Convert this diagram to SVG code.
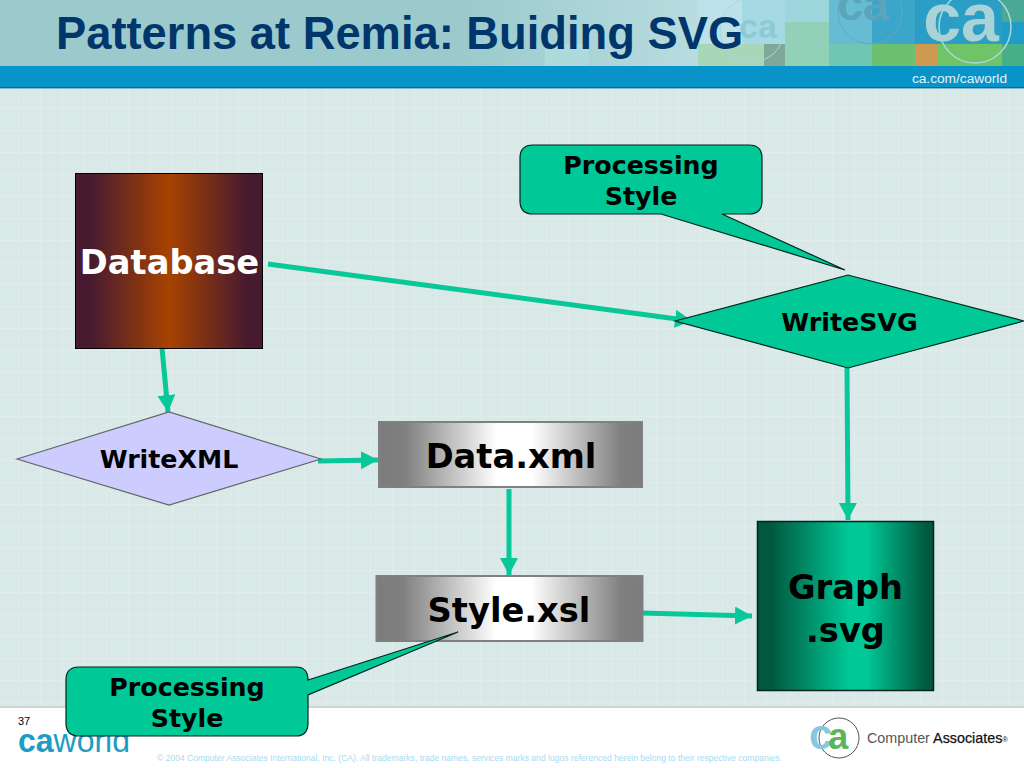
<svg xmlns="http://www.w3.org/2000/svg" width="1024" height="768" viewBox="0 0 1024 768">
<style>
.v{font-family:"DejaVu Sans",Verdana,sans-serif;font-weight:700;fill:#000;text-anchor:middle}
.s{font-family:"Liberation Sans",Arial,sans-serif}
.c{fill:none;stroke:#08c89a;stroke-width:5}
.sh{stroke:#00261e;stroke-width:1.2;fill:#00c896}
.big{font-size:33.700px}
.mid{font-size:25.300px}
</style>
<defs>
<marker id="a" markerUnits="userSpaceOnUse" markerWidth="20" markerHeight="20" refX="17" refY="9" orient="auto"><path d="M0 0L17 9L0 18Z" fill="#08c89a"/></marker>
<linearGradient id="db"><stop offset="0" stop-color="#471a30"/><stop offset=".08" stop-color="#471a30"/><stop offset=".5" stop-color="#a84300"/><stop offset=".92" stop-color="#471a30"/><stop offset="1" stop-color="#471a30"/></linearGradient>
<linearGradient id="gr"><stop offset="0" stop-color="#7c7c7c"/><stop offset=".1" stop-color="#808080"/><stop offset=".45" stop-color="#fff"/><stop offset=".58" stop-color="#fff"/><stop offset=".92" stop-color="#808080"/><stop offset="1" stop-color="#7c7c7c"/></linearGradient>
<linearGradient id="gn"><stop offset="0" stop-color="#00593f"/><stop offset=".08" stop-color="#00593f"/><stop offset=".52" stop-color="#00c896"/><stop offset=".62" stop-color="#00c896"/><stop offset=".96" stop-color="#00593f"/><stop offset="1" stop-color="#00593f"/></linearGradient>
<linearGradient id="hd"><stop offset="0" stop-color="#9ccacc"/><stop offset=".45" stop-color="#9ccacc"/><stop offset=".68" stop-color="#b8dcdf"/><stop offset="1" stop-color="#8ccbd0"/></linearGradient>
<pattern id="grid" patternUnits="userSpaceOnUse" x="18" y="108" width="22" height="22"><rect width="22" height="22" fill="#d9e9e8"/><path d="M0.500 0V22M0 0.500H22" stroke="#e1eded" stroke-width="1"/></pattern>
</defs>
<rect width="1024" height="768" fill="#fff"/>
<g id="header">
<rect width="1024" height="66" fill="url(#hd)"/>
<g>
<rect x="545" y="44" width="44" height="22" fill="#aedadb"/>
<rect x="698" y="0" width="44" height="44" fill="#bde1e8"/>
<rect x="698" y="44" width="66" height="22" fill="#a8d6b8"/>
<rect x="742" y="0" width="43" height="44" fill="#a5dae4"/>
<rect x="764" y="44" width="21" height="22" fill="#7fa89a"/>
<rect x="785" y="0" width="44" height="22" fill="#9dd6dc"/>
<rect x="785" y="22" width="44" height="44" fill="#92d0b8"/>
<rect x="829" y="0" width="43" height="44" fill="#66bcd2"/>
<rect x="829" y="44" width="43" height="22" fill="#70c6b4"/>
<rect x="872" y="0" width="43" height="44" fill="#3ca6ca"/>
<rect x="872" y="44" width="43" height="22" fill="#6cc070"/>
<rect x="915" y="0" width="87" height="44" fill="#2b9ec5"/>
<rect x="915" y="44" width="22" height="22" fill="#cf9a50"/>
<rect x="937" y="44" width="65" height="22" fill="#70c468"/>
<rect x="1002" y="0" width="22" height="22" fill="#4aa896"/>
<rect x="1002" y="22" width="22" height="22" fill="#1f9cc8"/>
<rect x="1002" y="44" width="22" height="22" fill="#48b088"/>
</g>
<rect y="66" width="1024" height="21" fill="#0894c8"/>
<rect y="87" width="1024" height="1.500" fill="#0a6a90"/>
<text class="s" x="1007" y="83" font-size="13.700" fill="#e4f3f8" text-anchor="end">ca.com/caworld</text>
</g>
<g id="watermark" font-family="Liberation Sans,sans-serif" font-weight="700" text-anchor="middle">
<circle cx="752" cy="30" r="32" fill="none" stroke="#a6d8e0" stroke-width="1"/>
<circle cx="870" cy="12" r="32" fill="none" stroke="#5fa9c0" stroke-width="1"/>
<circle cx="975" cy="27" r="36" fill="none" stroke="#a9d9d6" stroke-width="1.500"/>
<text x="758" y="38" font-size="34" fill="#8ccad6">ca</text>
<text x="863" y="20" font-size="46" fill="#5ca4b8">ca</text>
<text x="961" y="41" font-size="68" fill="#a9d3d6">ca</text>
</g>
<g id="background">
<rect y="89" width="1024" height="618" fill="url(#grid)"/>
<rect y="706" width="1024" height="2" fill="#c9d8d4"/>
</g>
<g id="footer">
<text class="s" x="18" y="725" font-size="11" fill="#000">37</text>
<text class="s" x="18" y="752" font-size="34" fill="#1d9cc4" textLength="112" lengthAdjust="spacingAndGlyphs"><tspan font-weight="700">ca</tspan>world</text>
<text class="s" x="157" y="761" font-size="8.500" fill="#a9daf0" textLength="625" lengthAdjust="spacing">© 2004 Computer Associates International, Inc. (CA). All trademarks, trade names, services marks and logos referenced herein belong to their respective companies.</text>
<g id="ca-logo">
<circle cx="839" cy="738" r="20" fill="#fff" stroke="#555" stroke-width="1"/>
<text class="s" x="809" y="749" font-size="42" font-weight="700"><tspan fill="#85c8df">c</tspan><tspan fill="#5db55a" dx="-4" font-size="36">a</tspan></text>
</g>
<text class="s" x="867" y="743" font-size="15" fill="#555" textLength="141" lengthAdjust="spacingAndGlyphs">Computer <tspan fill="#111" stroke="#111" stroke-width=".25">Associates</tspan><tspan font-size="8" fill="#111" dy="-1">®</tspan></text>
</g>
<text id="title" class="s" x="56" y="49" font-size="45.300" font-weight="700" fill="#00366c">Patterns at Remia: Buiding SVG</text>
<g id="connectors">
<path class="c" d="M268 264L692 321" marker-end="url(#a)"/>
<path class="c" d="M162 348L168 412" marker-end="url(#a)"/>
<path class="c" d="M318 461L378 460" marker-end="url(#a)"/>
<path class="c" d="M509 489V575" marker-end="url(#a)"/>
<path class="c" d="M847 368L848 520" marker-end="url(#a)"/>
<path class="c" d="M642 613L752 616" marker-end="url(#a)"/>
</g>
<g id="database">
<rect x="75.500" y="173.500" width="187" height="175" fill="url(#db)" stroke="#000"/>
<text class="v big" x="169.500" y="274" style="fill:#fff">Database</text>
</g>
<g id="writexml">
<path d="M17 459L169 412L321 459L169 505Z" fill="#ccccff" stroke="#666" stroke-width="1.200"/>
<text class="v mid" x="169" y="468">WriteXML</text>
</g>
<g id="dataxml">
<rect x="379" y="422" width="263" height="65" fill="url(#gr)" stroke="#808080" stroke-width="2"/>
<text class="v big" x="511" y="468">Data.xml</text>
</g>
<g id="stylexsl">
<rect x="376.500" y="576" width="266" height="65" fill="url(#gr)" stroke="#808080" stroke-width="2"/>
<text class="v big" x="509" y="622">Style.xsl</text>
</g>
<g id="writesvg">
<path class="sh" d="M675 321L848 275L1024 321L848 368Z"/>
<text class="v mid" x="849.500" y="331">WriteSVG</text>
</g>
<g id="graph">
<rect x="757.500" y="521.500" width="176" height="169" fill="url(#gn)" stroke="#00251c" stroke-width="1.500"/>
<text class="v big" x="845.500" y="599">Graph</text>
<text class="v big" x="845.500" y="642">.svg</text>
</g>
<g id="callout-top">
<path class="sh" d="M533 145H749Q762 145 762 158V201Q762 214 749 214H722L845 270L661 214H533Q520 214 520 201V158Q520 145 533 145Z"/>
<text class="v mid" x="641" y="174">Processing</text>
<text class="v mid" x="641" y="205">Style</text>
</g>
<g id="callout-bottom">
<path class="sh" d="M79 667H296Q308 667 308 680L458 632L308 695V723Q308 736 296 736H79Q66 736 66 723V680Q66 667 79 667Z"/>
<text class="v mid" x="187" y="696">Processing</text>
<text class="v mid" x="187" y="727">Style</text>
</g>
</svg>
